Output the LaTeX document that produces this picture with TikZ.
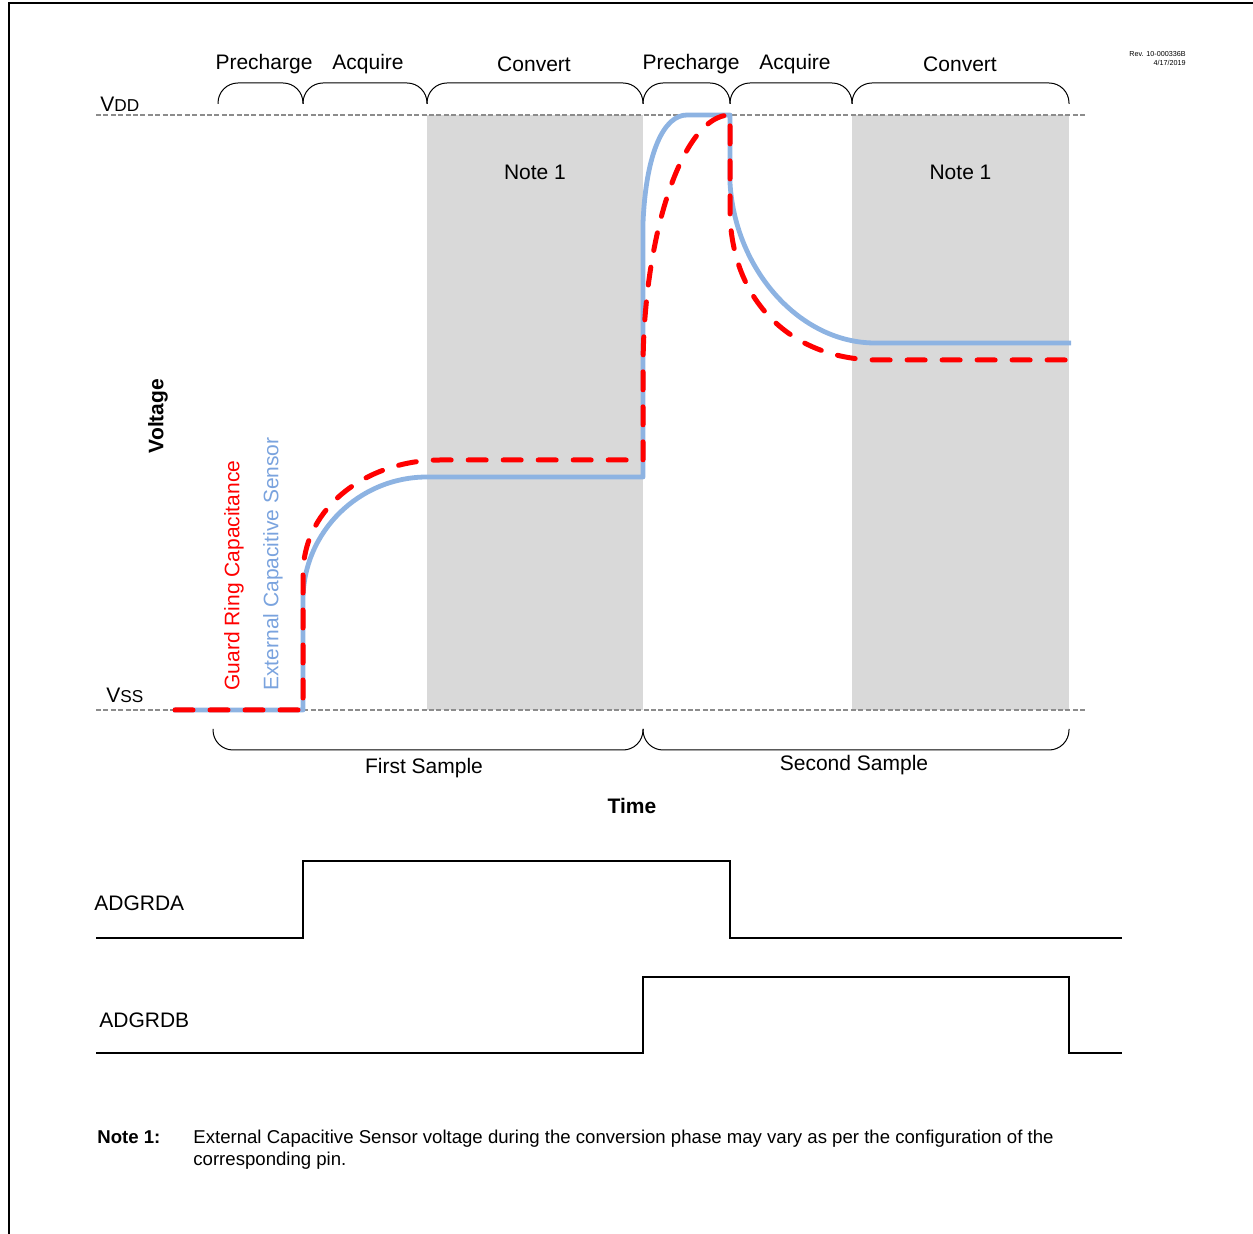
\documentclass[tikz,border=0pt]{standalone}
\usepackage{fontspec}
\setmainfont{Liberation Sans}
\usetikzlibrary{positioning}
\definecolor{sensBlue}{HTML}{8DB3E2}
\definecolor{sensText}{HTML}{7AA3DE}
\definecolor{guardRed}{HTML}{FF0000}
\definecolor{convGray}{HTML}{D9D9D9}
\definecolor{railGray}{HTML}{8C8C8C}
\newcommand{\smallsub}[1]{{\fontsize{8.6}{10}\selectfont #1}}

\begin{document}
\begin{tikzpicture}[x=0.5pt, y=-0.5pt, font=\fontsize{10.5}{12}\selectfont,
  rail/.style={draw=railGray, line width=0.6pt, dash pattern=on 2.5pt off 1.2pt},
  sensor/.style={draw=sensBlue, line width=2.4pt, line join=round},
  guard/.style={draw=guardRed, line width=2.5pt, line cap=round, line join=round,
    dash pattern=on 9pt off 8.5pt},
  logic/.style={draw=black, line width=1.3pt},
  phase/.style={draw=black, line width=0.5pt, rounded corners=10pt}]
        \useasboundingbox (0,0) rectangle (1253,1234);
        % page frame
        \draw[line width=1.2pt] (9,1234) -- (9,3) -- (1253,3);
        \node[anchor=north east, align=right, inner sep=0, font=\fontsize{3.6}{4.4}\selectfont]
          (rev) at (1186,51) {Rev. 10-000336B\\4/17/2019};

        % conversion windows
        \foreach \a/\b/\n in {427/643/1, 852/1069/2}
        {
          \fill[convGray] (\a,115) rectangle (\b,710);
          \node (note\n) at ({(\a+\b)/2},172) {Note 1};
        }

        % supply rails
        \draw[rail] (96,115) -- (1085,115);
        \draw[rail] (96,710) -- (1085,710);
        \node[anchor=base west, inner sep=0] (vdd) at (100,112) {V\smallsub{DD}};
        \node[anchor=base west, inner sep=0] (vss) at (106,703) {V\smallsub{SS}};

        % phase braces
        \foreach \a/\b/\x/\t in
          {218/303/264/Precharge, 303/427/368/Acquire, 427/643/534/Convert,
           643/730/691/Precharge, 730/852/795/Acquire, 852/1069/960/Convert}
        {
          \draw[phase] (\a,104) -- (\a,83) -- (\b,83) -- (\b,104);
          \node (ph\a) at (\x,64) {\t};
        }

        % sample braces
        \foreach \a/\b/\x/\y/\t in {213/643/424/768/First Sample, 643/1069/854/765/Second Sample}
        {
          \draw[phase] (\a,729) -- (\a,750) -- (\b,750) -- (\b,729);
          \node (smp\a) at (\x,\y) {\t};
        }

        % axis names
        \node[font=\bfseries\fontsize{10.5}{12}\selectfont, rotate=90] (volt) at (158,416) {Voltage};
        \node[font=\bfseries\fontsize{10.5}{12}\selectfont] (time) at (632,806) {Time};

        % sensor and guard ring traces
        \draw[sensor] (173,710) -- (303,710) -- (303,600)
          .. controls (303,532) and (359,477) .. (427,477) -- (643,477) -- (643,223)
          .. controls (646,152) and (664,115) .. (687,115) -- (730,115) -- (730,183)
          .. controls (735,270) and (800,343) .. (875,343) -- (1071,343);
        \draw[guard] (175,710) -- (303,710) -- (303,575)
          .. controls (303,505) and (370,460) .. (440,460) -- (643,460) -- (643,365)
          .. controls (644,230) and (684,115) .. (730,115) -- (730,215)
          .. controls (733,305) and (795,360) .. (878,360) -- (1071,360);
        \node[rotate=90, anchor=west, inner sep=0, text=guardRed] (guardlbl) at (234,691)
          {Guard Ring Capacitance};
        \node[rotate=90, anchor=west, inner sep=0, text=sensText] (senslbl) at (273,691)
          {External Capacitive Sensor};

        % guard drive signals
        \draw[logic] (96,938) -- (303,938) -- (303,861) -- (730,861) -- (730,938) -- (1122,938);
        \draw[logic] (96,1053) -- (643,1053) -- (643,977) -- (1069,977) -- (1069,1053) -- (1122,1053);
        \node[anchor=west, inner sep=0] (adgrda) at (94,903) {ADGRDA};
        \node[anchor=west, inner sep=0] (adgrdb) at (99,1020) {ADGRDB};

        % footnote
        \node[anchor=base west, inner sep=0, font=\bfseries\fontsize{9.3}{11}\selectfont]
          (notelbl) at (97,1143) {Note 1:};
        \node[anchor=base west, inner sep=0, font=\fontsize{9.3}{11}\selectfont]
          (notetxt) at (193,1143) {External Capacitive Sensor voltage during the conversion phase may vary as per the configuration of the};
        \node[anchor=base west, inner sep=0, font=\fontsize{9.3}{11}\selectfont]
          (notetxtb) at (193,1165) {corresponding pin.};
      \end{tikzpicture}
\end{document}
